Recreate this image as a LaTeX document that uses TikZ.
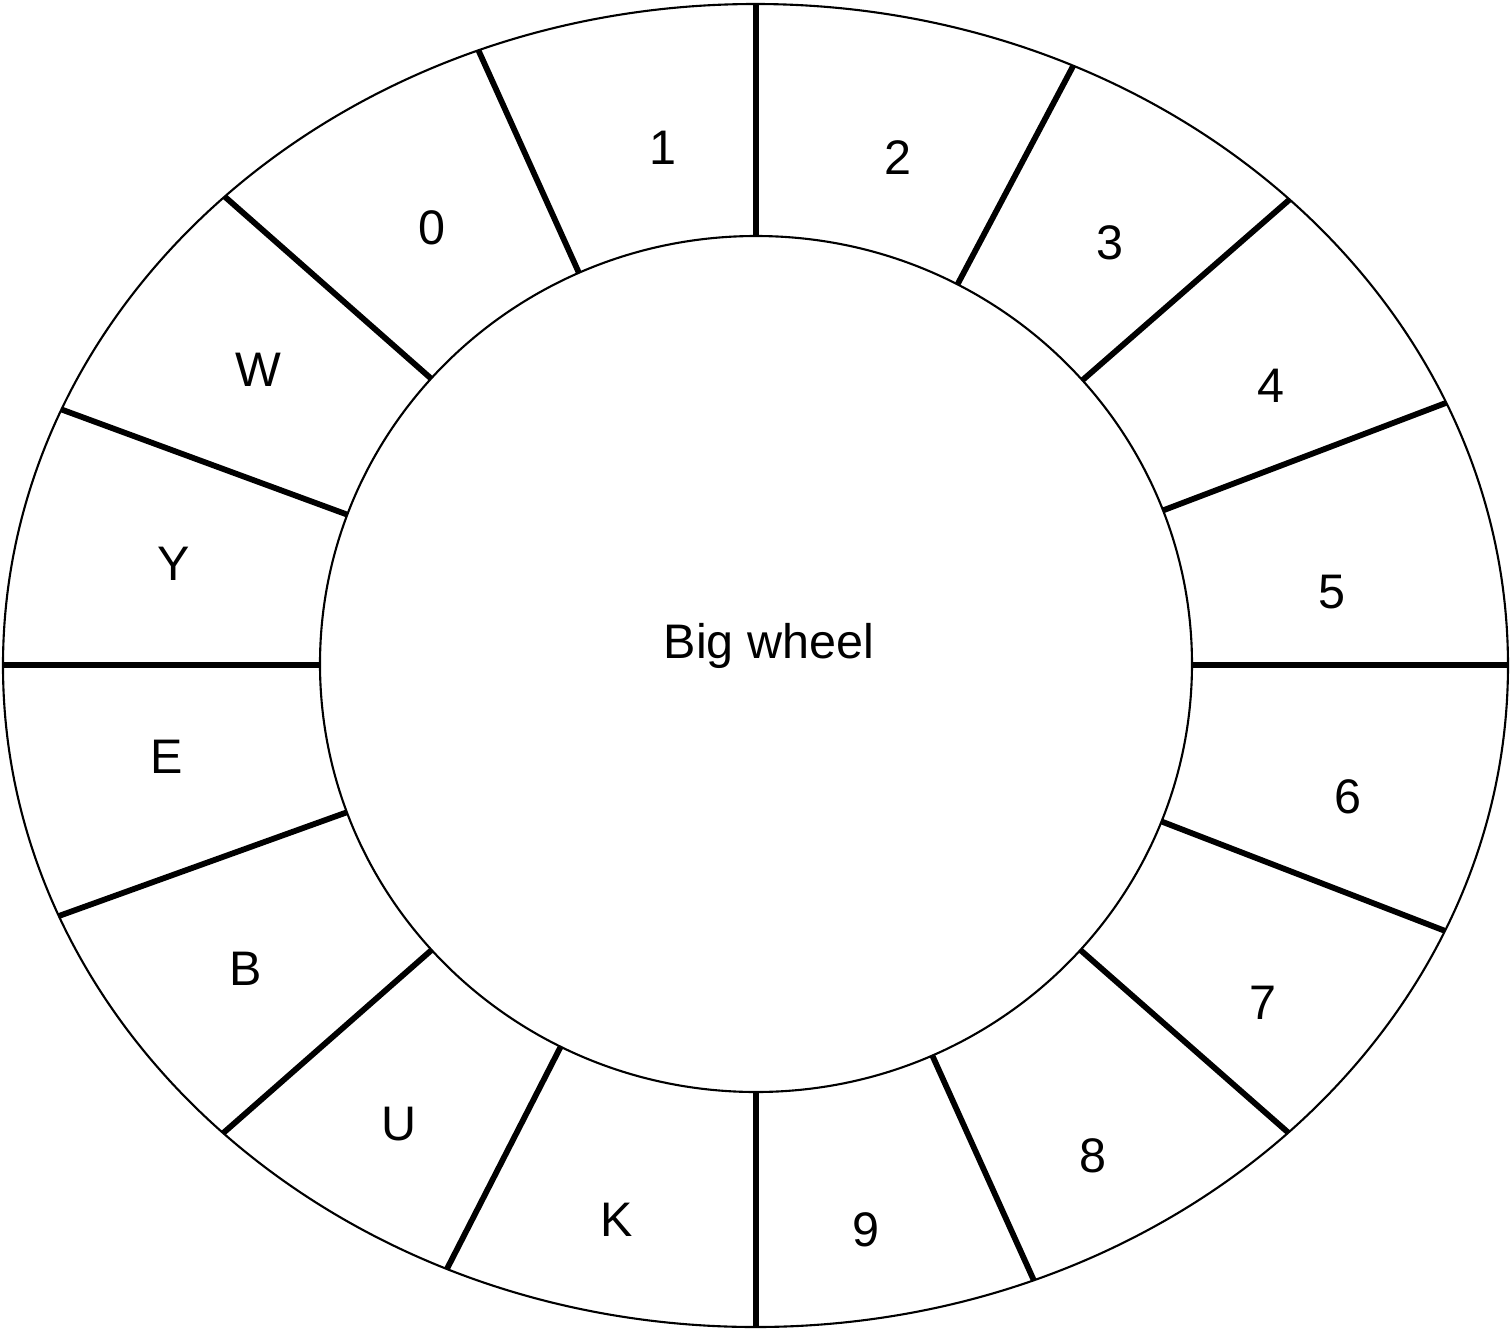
\documentclass[tikz,border=0pt]{standalone}
\usepackage{fontspec}
\setmainfont{Liberation Sans}
\usepackage{tikz}

\begin{document}
\begin{tikzpicture}[
    rim/.style={draw, line width=0.6pt},
    spoke/.style={draw, line width=1.65pt},
    lbl/.style={inner sep=0pt, font=\fontsize{13.8}{17}\selectfont}]
  \useasboundingbox (-7.56,-6.65) rectangle (7.56,6.65);
  \fill[white] (-7.56,-6.65) rectangle (7.56,6.65);
  \begin{scope}
    \clip (-0.005,-0.005) ellipse [x radius=7.525, y radius=6.615];
    \foreach \a in {0,20.8,41.1,62.1,90,114.3,138.6,159.8,180,199.8,221.3,242.9,270,294.3,318.7,338.9}
      \draw[spoke] (0,0) -- (\a:9);
  \end{scope}
  \draw[rim] (-0.005,-0.005) ellipse [x radius=7.525, y radius=6.615];
  \filldraw[rim, fill=white] (0,0.01) ellipse [x radius=4.36, y radius=4.28];
  \node[lbl] (hub) at (0.13,0.19) {Big wheel};
  \node[lbl] (l1) at (-0.93,5.17) {1};
  \node[lbl] (l2) at (1.42,5.07) {2};
  \node[lbl] (l3) at (3.54,4.22) {3};
  \node[lbl] (l4) at (5.15,2.79) {4};
  \node[lbl] (l5) at (5.76,0.73) {5};
  \node[lbl] (l6) at (5.92,-1.32) {6};
  \node[lbl] (l7) at (5.07,-3.38) {7};
  \node[lbl] (l8) at (3.37,-4.91) {8};
  \node[lbl] (l9) at (1.10,-5.65) {9};
  \node[lbl] (lK) at (-1.39,-5.55) {K};
  \node[lbl] (lU) at (-3.57,-4.59) {U};
  \node[lbl] (lB) at (-5.10,-3.04) {B};
  \node[lbl] (lE) at (-5.89,-0.92) {E};
  \node[lbl] (lY) at (-5.82,1.01) {Y};
  \node[lbl] (lW) at (-4.98,2.95) {W};
  \node[lbl] (l0) at (-3.24,4.37) {0};
\end{tikzpicture}
\end{document}
